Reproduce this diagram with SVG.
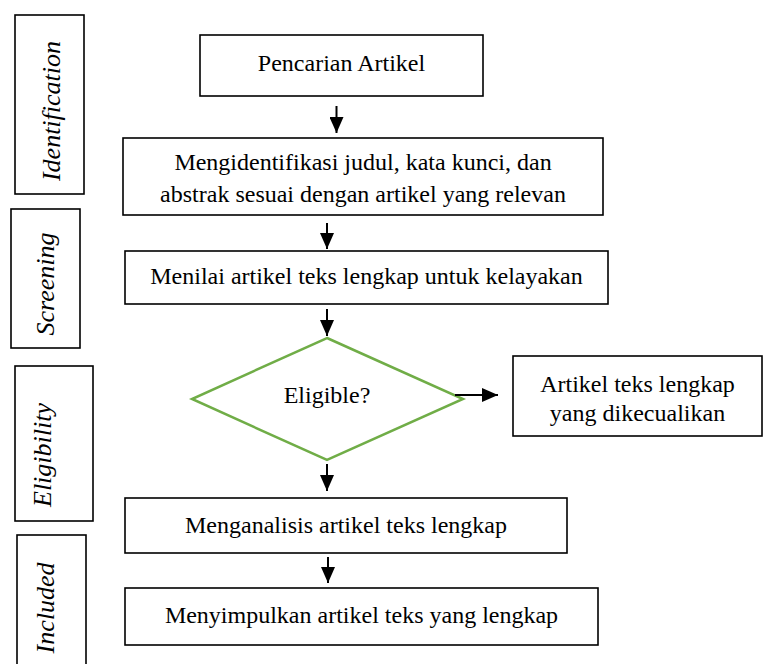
<svg xmlns="http://www.w3.org/2000/svg" width="763" height="664" viewBox="0 0 763 664">
  <defs>
    <style>
      .box { fill: #ffffff; stroke: #000000; stroke-width: 1.6; }
      .dia { fill: #ffffff; stroke: #70AD47; stroke-width: 2.5; }
      text { font-family: 'Liberation Serif', Tinos, 'Times New Roman', 'DejaVu Serif', serif; fill: #000000; text-anchor: middle; }
      .t { font-size: 24px; }
      .lab { font-size: 26px; font-style: italic; }
      .conn line { stroke: #000000; stroke-width: 2; }
    </style>
    <marker id="ah" viewBox="0 0 16 14" refX="16" refY="7" markerWidth="8" markerHeight="7" markerUnits="strokeWidth" orient="auto">
      <path d="M0,0 L16,7 L0,14 Z" fill="#000000"/>
    </marker>
  </defs>
  <rect width="763" height="664" fill="#ffffff"/>

  <g id="stage-identification">
    <rect class="box" x="15" y="15" width="69" height="179"/>
    <text class="lab" transform="translate(60,111) rotate(-90)">Identification</text>
  </g>
  <g id="stage-screening">
    <rect class="box" x="11" y="209" width="69" height="139"/>
    <text class="lab" transform="translate(54,284) rotate(-90)">Screening</text>
  </g>
  <g id="stage-eligibility">
    <rect class="box" x="15" y="366" width="78" height="155"/>
    <text class="lab" transform="translate(51,455) rotate(-90)">Eligibility</text>
  </g>
  <g id="stage-included">
    <rect class="box" x="17" y="535" width="69" height="140"/>
    <text class="lab" transform="translate(54,608) rotate(-90)">Included</text>
  </g>

  <g id="n1">
    <rect class="box" x="200" y="35" width="283" height="61"/>
    <text class="t" x="341.5" y="70.5">Pencarian Artikel</text>
  </g>
  <g id="n2">
    <rect class="box" x="123" y="138" width="480" height="77"/>
    <text class="t" x="363" y="170">Mengidentifikasi judul, kata kunci, dan</text>
    <text class="t" x="363" y="202">abstrak sesuai dengan artikel yang relevan</text>
  </g>
  <g id="n3">
    <rect class="box" x="125" y="251" width="483" height="53"/>
    <text class="t" x="366.5" y="283.5">Menilai artikel teks lengkap untuk kelayakan</text>
  </g>
  <g id="n4">
    <polygon class="dia" points="327,338 463,399 327,460 192,399"/>
    <text class="t" x="327" y="403">Eligible?</text>
  </g>
  <g id="n5">
    <rect class="box" x="513" y="356" width="249" height="80"/>
    <text class="t" x="637.5" y="392">Artikel teks lengkap</text>
    <text class="t" x="637.5" y="421">yang dikecualikan</text>
  </g>
  <g id="n6">
    <rect class="box" x="125" y="498" width="442" height="55"/>
    <text class="t" x="346" y="532.5">Menganalisis artikel teks lengkap</text>
  </g>
  <g id="n7">
    <rect class="box" x="125" y="588" width="473" height="57"/>
    <text class="t" x="361.5" y="622.5">Menyimpulkan artikel teks yang lengkap</text>
  </g>

  <g id="connectors" class="conn">
    <line x1="336.5" y1="106" x2="336.5" y2="133" marker-end="url(#ah)"/>
    <line x1="327" y1="223" x2="327" y2="249" marker-end="url(#ah)"/>
    <line x1="327" y1="309" x2="327" y2="336" marker-end="url(#ah)"/>
    <line x1="455" y1="395" x2="498" y2="395" marker-end="url(#ah)"/>
    <line x1="327" y1="464" x2="327" y2="491" marker-end="url(#ah)"/>
    <line x1="328" y1="557" x2="328" y2="583" marker-end="url(#ah)"/>
  </g>
</svg>
